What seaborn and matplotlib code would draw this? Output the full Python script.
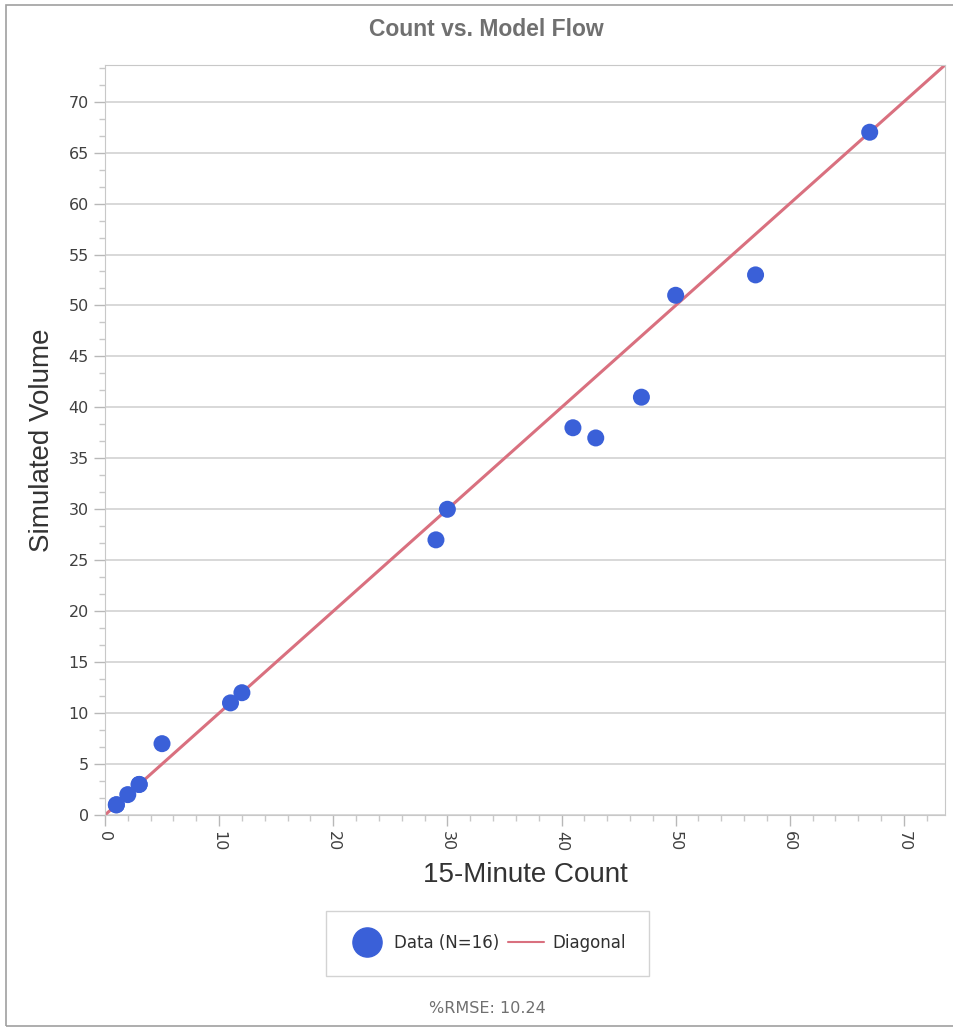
import numpy as np
import pandas as pd
import seaborn as sns
import matplotlib.pyplot as plt
from matplotlib.ticker import MultipleLocator, AutoMinorLocator
from matplotlib.lines import Line2D
from matplotlib.patches import Rectangle

# data (N=16, some points overlap)
count = [1, 1, 2, 3, 3, 5, 11, 12, 29, 30, 41, 43, 47, 50, 57, 67]
simulated = [1, 1, 2, 3, 3, 7, 11, 12, 27, 30, 38, 37, 41, 51, 53, 67]
diag = [0, 73.6]

df = pd.DataFrame({'count': count, 'simulated': simulated})
diag_df = pd.DataFrame({'x': diag, 'y': diag})

sns.set_style('white')
plt.rcParams['font.family'] = ['Liberation Sans', 'DejaVu Sans']

fig = plt.figure(figsize=(9.54, 10.28), dpi=100)
ax = fig.add_axes([0.110, 0.2072, 0.8806, 0.7296])

dot_col = '#3a60d8'
line_col = '#d9707f'

sns.lineplot(data=diag_df, x='x', y='y', ax=ax, color=line_col, lw=2.2, zorder=2)
sns.scatterplot(data=df, x='count', y='simulated', ax=ax, color=dot_col, s=150,
                edgecolor='none', zorder=3)

ax.set_xlim(0, 73.6)
ax.set_ylim(0, 73.6)
ax.xaxis.set_major_locator(MultipleLocator(10))
ax.yaxis.set_major_locator(MultipleLocator(5))
ax.xaxis.set_minor_locator(AutoMinorLocator(5))
ax.yaxis.set_minor_locator(AutoMinorLocator(3))
ax.grid(axis='y', which='major', color='#d2d2d2', lw=1.2)
ax.set_axisbelow(True)

for s in ax.spines.values():
    s.set_color('#c8c8c8')
ax.tick_params(axis='both', which='both', bottom=True, left=True, direction='out')
ax.tick_params(axis='both', which='major', length=8, width=1, color='#b8b8b8',
               labelsize=12, labelcolor='#404040')
ax.tick_params(axis='both', which='minor', length=4, width=1, color='#c8c8c8')
ax.tick_params(axis='x', labelrotation=-90)
for lab in ax.get_xticklabels() + ax.get_yticklabels():
    lab.set_family(['DejaVu Sans'])
    lab.set_fontsize(11.5)

ax.set_xlabel('15-Minute Count', fontsize=20, color='#333333', labelpad=8)
ax.set_ylabel('Simulated Volume', fontsize=20, color='#333333', labelpad=10)

fig.text(0.51, 0.971, 'Count vs. Model Flow', ha='center', va='center',
         fontsize=16.5, fontweight='bold', color='#707070')

handles = [Line2D([], [], marker='o', ls='none', color=dot_col, markersize=21),
           Line2D([], [], color=line_col, lw=1.5)]
leg = fig.legend(handles, ['Data (N=16)', 'Diagonal'], loc='center',
                 bbox_to_anchor=(0.511, 0.0825), ncol=2, frameon=True, fancybox=False,
                 handlelength=2.2, columnspacing=0.5, handletextpad=0.5,
                 borderpad=1.4, edgecolor='#c8c8c8',
                 prop={'family': ['DejaVu Sans'], 'size': 12})
leg.get_frame().set_linewidth(1.0)
for t in leg.get_texts():
    t.set_color('#303030')

fig.text(0.511, 0.019, '%RMSE: 10.24', ha='center', va='center', fontsize=11.5,
         color='#707070', family=['DejaVu Sans'])

# outer frame like the control border
fig.patches.append(Rectangle((0.006, 0.002), 1.2, 0.993, transform=fig.transFigure,
                             fill=False, edgecolor='#a0a0a0', lw=1.2))

fig.savefig('out.png', dpi=100)
